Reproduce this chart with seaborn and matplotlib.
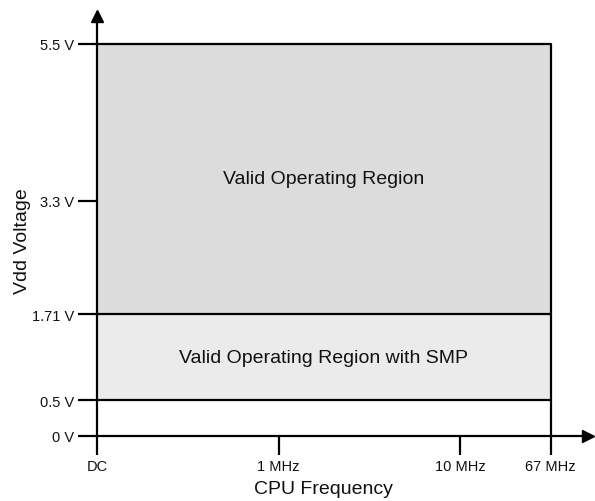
import matplotlib
matplotlib.use("Agg")
import matplotlib.pyplot as plt
import matplotlib.transforms as mtransforms
import pandas as pd
import seaborn as sns

# Axis ticks (schematic frequency axis, linear voltage axis)
freq_labels = ["DC", "1 MHz", "10 MHz", "67 MHz"]
freq_pos = [0, 1, 2, 2.5]
volt_ticks = [0, 0.5, 1.71, 3.3, 5.5]
volt_labels = ["0 V", "0.5 V", "1.71 V", "3.3 V", "5.5 V"]

# Operating regions
region_names = ["Valid Operating Region with SMP", "Valid Operating Region"]
region_low = [0.5, 1.71]
region_high = [1.71, 5.5]
region_colors = ["#ebebeb", "#dcdcdc"]

f_max = freq_pos[-1]
df = pd.DataFrame({"name": region_names, "low": region_low, "high": region_high})

sns.set_style("white")
plt.rcParams["font.family"] = ["Liberation Sans", "DejaVu Sans"]

fig = plt.figure(figsize=(5.95, 5.02), dpi=100)
ax = fig.add_axes([97 / 595, 65 / 502, 491 / 595, 420 / 502])

# Fill regions
for i, row in df.iterrows():
    ax.fill_between([0, f_max], row["low"], row["high"], color=region_colors[i], lw=0, zorder=1)
    ax.text(f_max / 2, (row["low"] + row["high"]) / 2, row["name"],
            ha="center", va="center", fontsize=14, color="#111111", zorder=3)

# Boundary lines
bounds = pd.DataFrame({"x": [0, f_max] * 3,
                       "y": [0.5, 0.5, 1.71, 1.71, 5.5, 5.5],
                       "g": ["a", "a", "b", "b", "c", "c"]})
sns.lineplot(data=bounds, x="x", y="y", units="g", estimator=None,
             color="black", lw=1.6, ax=ax, zorder=2)
ax.vlines(f_max, 0, 5.5, color="black", lw=1.6, zorder=2)

ax.set_xlim(0, 2.705)
ax.set_ylim(0, 5.89)

for s in ["top", "right"]:
    ax.spines[s].set_visible(False)
for s in ["left", "bottom"]:
    ax.spines[s].set_linewidth(1.6)
    ax.spines[s].set_color("black")

ax.set_xticks(freq_pos)
ax.set_xticklabels(freq_labels)
ax.set_yticks(volt_ticks)
ax.set_yticklabels(volt_labels)
ax.tick_params(axis="both", direction="out", length=13.5, width=1.6,
               color="black", labelsize=10.5, labelcolor="#111111",
               bottom=True, left=True)
ax.tick_params(axis="x", pad=3)
ax.tick_params(axis="y", pad=3)
ax.set_xlabel("")
ax.set_ylabel("")

# Arrow heads
ax.plot(1, 0, ">k", ms=9, transform=ax.get_yaxis_transform(), clip_on=False)
ax.plot(0, 1, "^k", ms=9, transform=ax.get_xaxis_transform(), clip_on=False)

# Axis labels centred on the drawn region
tx = mtransforms.blended_transform_factory(ax.transData, ax.transAxes)
ty = mtransforms.blended_transform_factory(ax.transAxes, ax.transData)
ax.text(f_max / 2, -0.124, "CPU Frequency", transform=tx, ha="center", va="center",
        fontsize=14, color="#111111")
ax.text(-0.152, 2.75, "Vdd Voltage", transform=ty, rotation=90, ha="center", va="center",
        fontsize=14, color="#111111")

fig.savefig("out.png", dpi=100)
